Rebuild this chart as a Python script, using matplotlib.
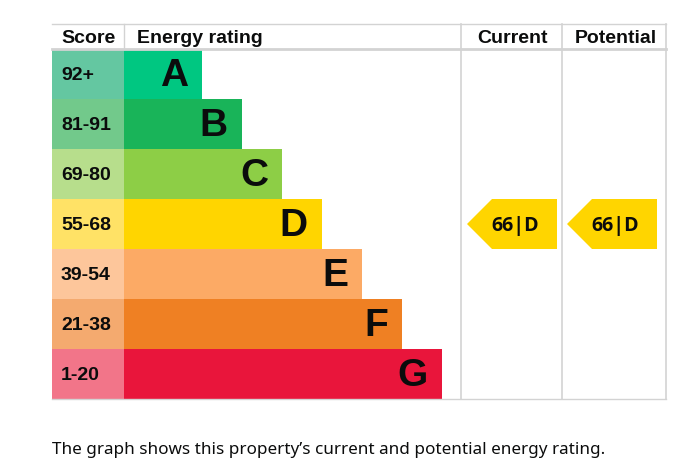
import matplotlib.pyplot as plt
from matplotlib.patches import Polygon

bands = ['A', 'B', 'C', 'D', 'E', 'F', 'G']
scores = ['92+', '81-91', '69-80', '55-68', '39-54', '21-38', '1-20']
bar_colors = ['#00c781', '#19b459', '#8dce46', '#ffd500', '#fcaa65', '#ef8023', '#e9153b']
score_colors = ['#64c7a1', '#72c98b', '#b7de8c', '#ffe266', '#fdc69b', '#f4aa6f', '#f27589']
current = (66, 'D')
potential = (66, 'D')

fig = plt.figure(figsize=(6.84, 4.77), dpi=100)
ax = fig.add_axes([0, 0, 1, 1])
ax.set_xlim(0, 684)
ax.set_ylim(477, 0)
ax.axis('off')

left, score_right, cur_left, pot_left, right = 52, 124, 461, 562, 666
top, head, row_h = 25, 50, 50
bottom = head + row_h * len(bands)
grid = '#d3d3d3'
hfont = dict(family='Liberation Sans', weight='bold', color='#0b0c0c')

# table lines
ax.plot([left, right], [top, top], color=grid, lw=1)
ax.plot([left, right], [head, head], color=grid, lw=2)
ax.plot([left, right], [bottom, bottom], color=grid, lw=1)
ax.plot([score_right, score_right], [top, head], color=grid, lw=1)
for x in (cur_left, pot_left, right):
    ax.plot([x, x], [top, bottom], color=grid, lw=1.2)

# header
mid = (top + head) / 2
ax.text(61, mid + 1, 'Score', fontsize=14, ha='left', va='center', **hfont)
ax.text(137, mid + 1, 'Energy rating', fontsize=14, ha='left', va='center', **hfont)
ax.text((cur_left + pot_left) / 2 + 1, mid + 1, 'Current', fontsize=14, ha='center', va='center', **hfont)
ax.text((pot_left + right) / 2 + 2, mid + 1, 'Potential', fontsize=14, ha='center', va='center', **hfont)

# bands
for i, (b, s) in enumerate(zip(bands, scores)):
    y0 = head + i * row_h
    bar_end = 202 + 40 * i
    ax.barh(y0 + row_h / 2, score_right - left, left=left, height=row_h,
            color=score_colors[i], linewidth=0)
    ax.barh(y0 + row_h / 2, bar_end - score_right, left=score_right, height=row_h,
            color=bar_colors[i], linewidth=0)
    ax.text(61, y0 + row_h / 2 + 1, s, fontsize=14, ha='left', va='center', **hfont)
    ax.text(bar_end - 14, y0 + row_h / 2 + 1, b, fontsize=28, ha='right', va='center', **hfont)


def arrow(x_tip, value, band):
    i = bands.index(band)
    y0 = head + i * row_h
    ym = y0 + row_h / 2
    pts = [(x_tip, ym), (x_tip + 25, y0), (x_tip + 90, y0),
           (x_tip + 90, y0 + row_h), (x_tip + 25, y0 + row_h)]
    ax.add_patch(Polygon(pts, closed=True, color=bar_colors[i], lw=0))
    ax.text(x_tip + 48, ym + 1, f'{value}|{band}', fontsize=14, ha='center', va='center',
            family='Open Sans', weight='bold', color='#0b0c0c')


arrow(467, *current)
arrow(567, *potential)

ax.text(52, 450, 'The graph shows this property\u2019s current and potential energy rating.',
        fontsize=12.3, ha='left', va='center', family='Noto Sans', color='#0b0c0c')

fig.savefig('out.png', dpi=100)
